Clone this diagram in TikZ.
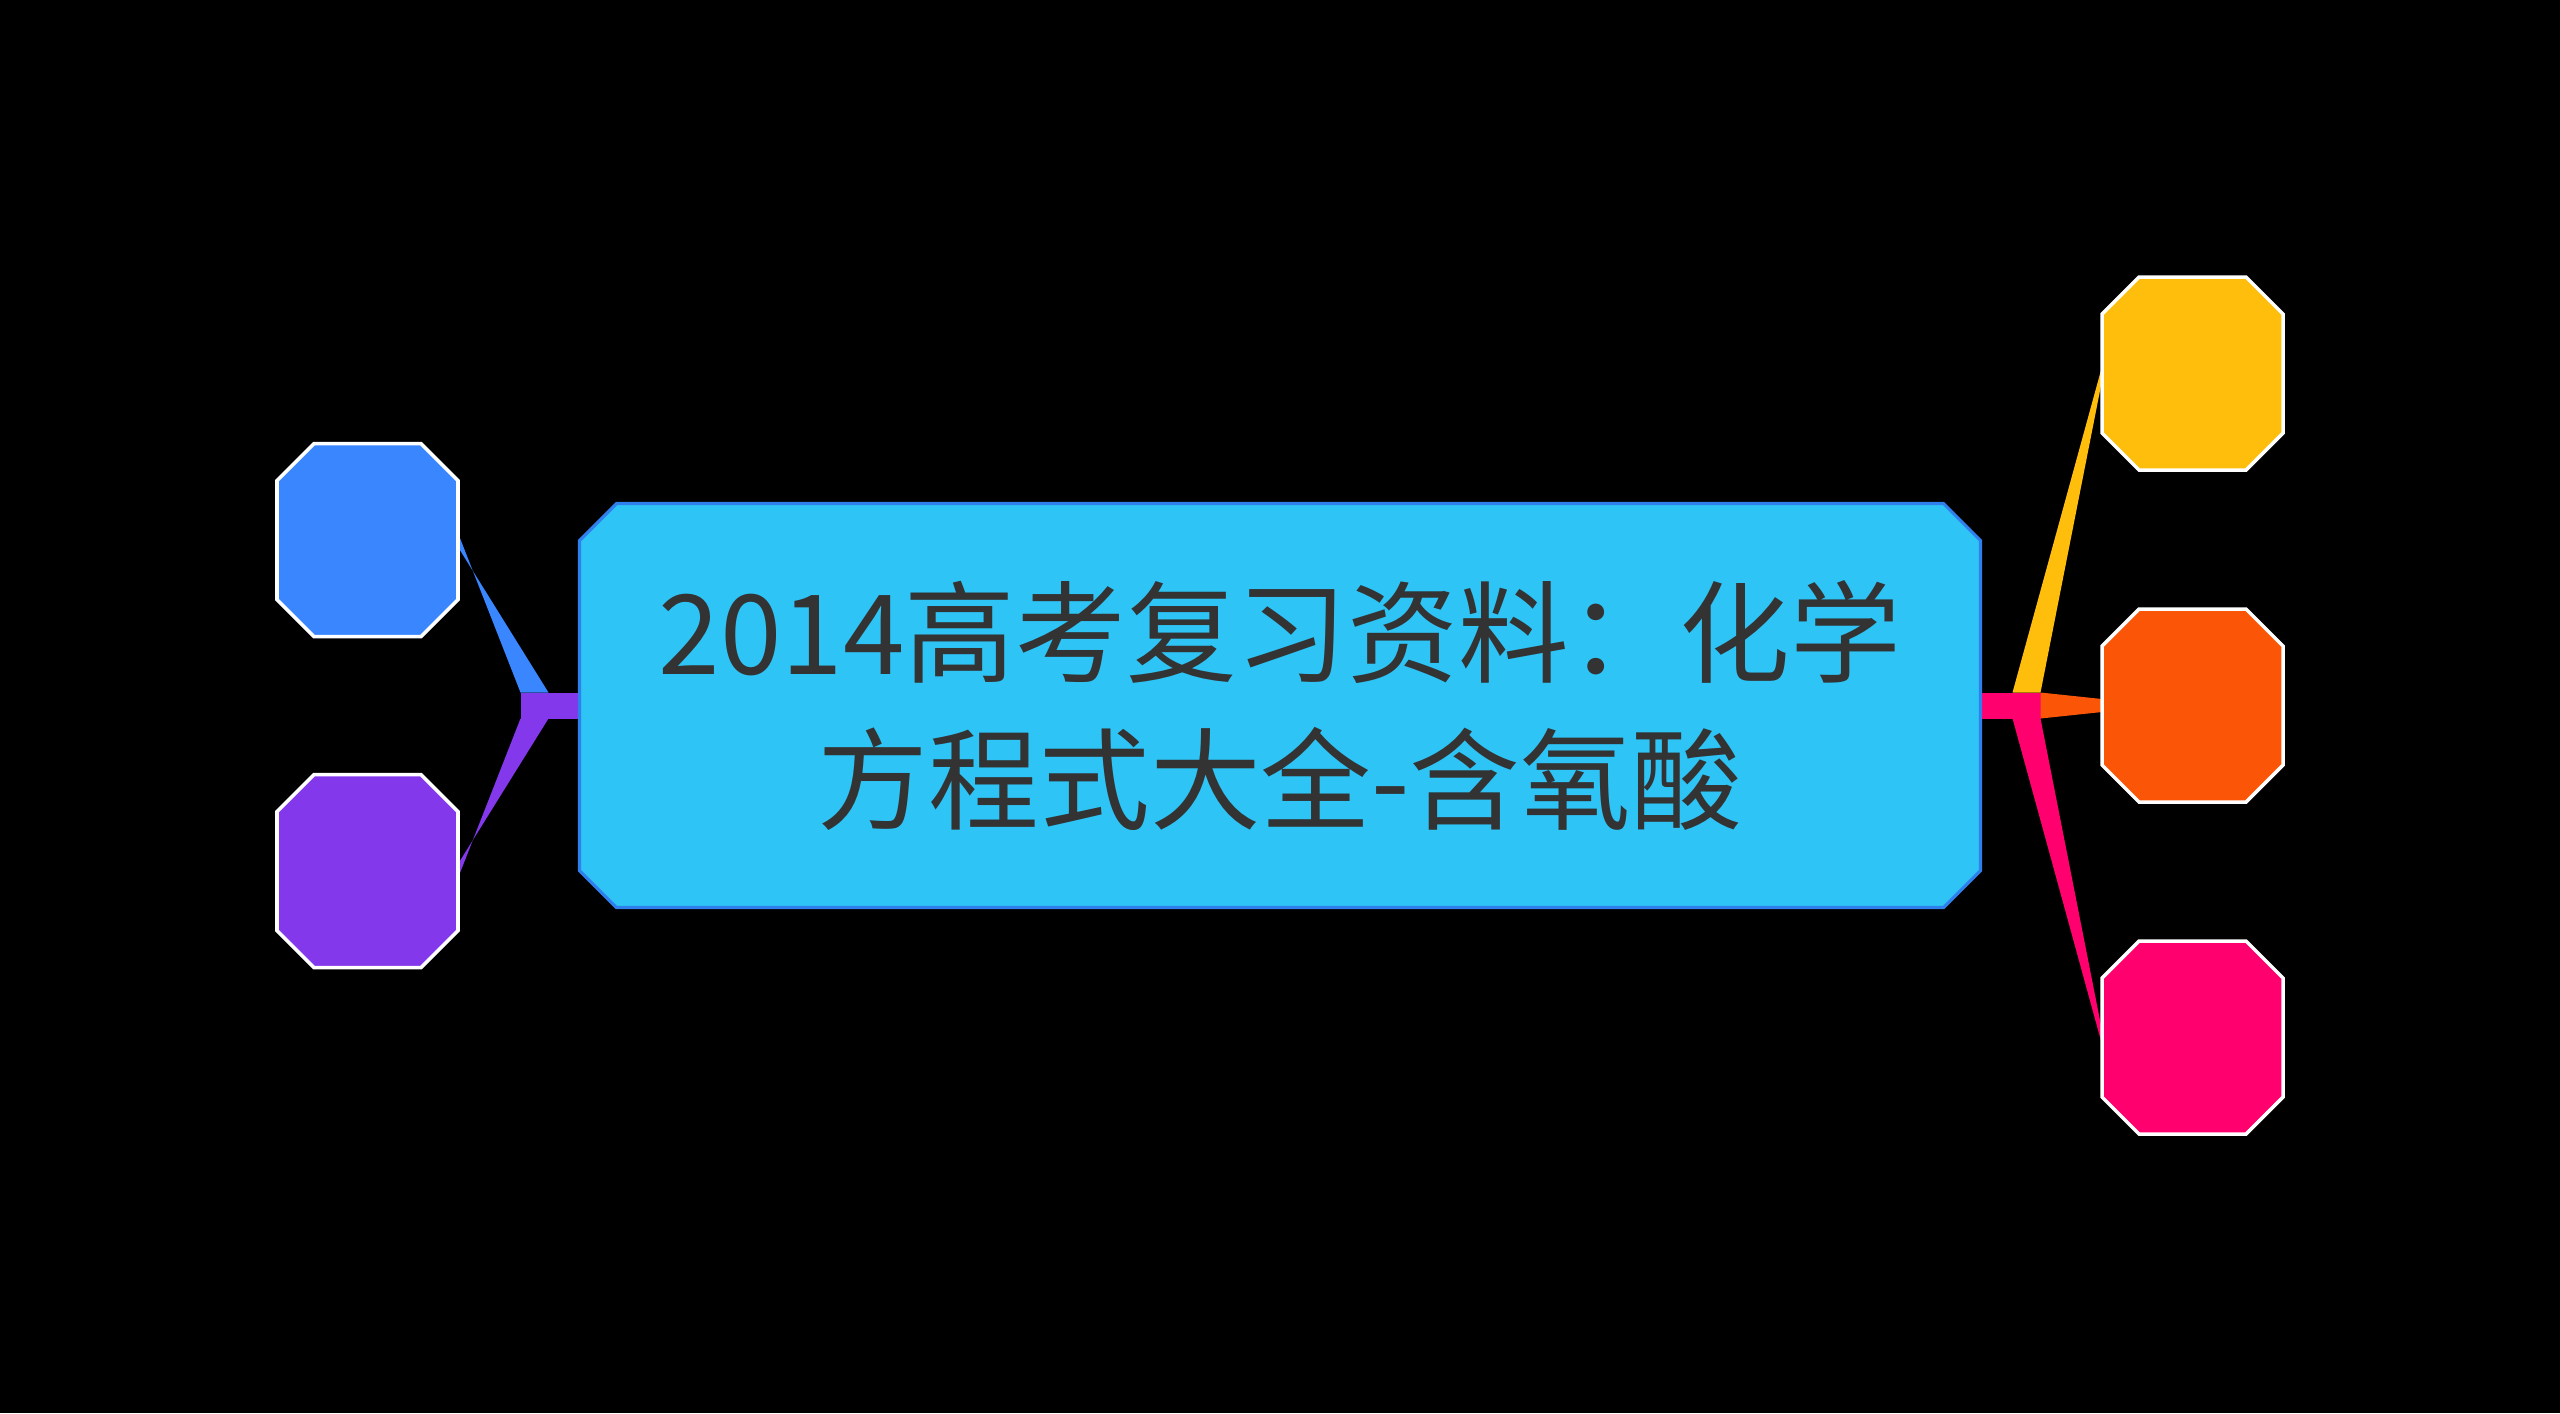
\documentclass[tikz,border=0pt]{standalone}
\usepackage{fontspec}
\newfontfamily\cjk{Noto Sans CJK SC}
\usetikzlibrary{backgrounds,calc}

\definecolor{rootfill}{HTML}{2EC4F6}
\definecolor{rootline}{HTML}{2F80ED}
\definecolor{textgray}{HTML}{333333}
\definecolor{leafblue}{HTML}{3A86FF}
\definecolor{leafpurple}{HTML}{8338EC}
\definecolor{leafyellow}{HTML}{FFBE0B}
\definecolor{leaforange}{HTML}{FB5607}
\definecolor{leafpink}{HTML}{FF006E}

% Achteck um einen Knoten (Ecken abgeschnitten)
\newcommand{\octbox}[2][]{%
  \filldraw[#1] ($(#2.north west)+(0.37,0)$) -- ($(#2.north east)+(-0.37,0)$)
    -- ($(#2.north east)+(0,-0.37)$) -- ($(#2.south east)+(0,0.37)$)
    -- ($(#2.south east)+(-0.37,0)$) -- ($(#2.south west)+(0.37,0)$)
    -- ($(#2.south west)+(0,0.37)$) -- ($(#2.north west)+(0,-0.37)$) -- cycle;}

\begin{document}
\begin{tikzpicture}[
    root node/.style={rectangle,minimum width=14.01cm,minimum height=4.04cm,inner sep=0pt,outer sep=0pt,align=center,text=textgray,font=\cjk\fontsize{31.5}{42}\selectfont},
    leaf node/.style={rectangle,minimum width=1.81cm,minimum height=1.93cm,inner sep=0pt,outer sep=0pt},
    root box/.style={fill=rootfill,draw=rootline,line width=0.9pt},
    leaf box/.style={draw=white,line width=1pt}
]

% Mittelknoten
\node[root node] (root) at (12.80,-7.055) {2014高考复习资料：化学\\方程式大全-含氧酸};

% Knoten links
\node[leaf node] (lb) at (3.675,-5.40) {};
\node[leaf node] (lp) at (3.675,-8.71) {};

% Knoten rechts
\node[leaf node] (ry) at (21.925,-3.735) {};
\node[leaf node] (ro) at (21.925,-7.055) {};
\node[leaf node] (rp) at (21.925,-10.375) {};

% Verzweigungspunkte
\coordinate (lout) at ($(root.west)+(-0.59,0)$);
\coordinate (lin) at ($(root.west)+(-0.31,0)$);
\coordinate (rin) at ($(root.east)+(0.32,0)$);
\coordinate (rout) at ($(root.east)+(0.60,0)$);

\begin{scope}[on background layer]
% Hintergrund
\fill[black] (0,0) rectangle (25.6,-14.13);

% Zweige links
\fill[leafpurple] ($(root.west)+(0,0.13)$) rectangle ($(lout)+(0,-0.13)$);
\fill[leafblue] ($(lout)+(0,0.13)$) -- ($(lin)+(0,0.13)$) -- ($(lb.east)+(0,-0.07)$) -- ($(lb.east)+(0,0.07)$) -- cycle;
\fill[leafpurple] ($(lout)+(0,-0.13)$) -- ($(lin)+(0,-0.13)$) -- ($(lp.east)+(0,0.07)$) -- ($(lp.east)+(0,-0.07)$) -- cycle;

% Zweige rechts
\fill[leafpink] ($(root.east)+(0,0.13)$) rectangle ($(rout)+(0,-0.13)$);
\fill[leafyellow] ($(rin)+(0,0.13)$) -- ($(rout)+(0,0.13)$) -- ($(ry.west)+(0,-0.07)$) -- ($(ry.west)+(0,0.07)$) -- cycle;
\fill[leaforange] ($(rout)+(0,0.13)$) -- ($(ro.west)+(0,0.065)$) -- ($(ro.west)+(0,-0.065)$) -- ($(rout)+(0,-0.13)$) -- cycle;
\fill[leafpink] ($(rin)+(0,-0.13)$) -- ($(rout)+(0,-0.13)$) -- ($(rp.west)+(0,0.07)$) -- ($(rp.west)+(0,-0.07)$) -- cycle;

% Achtecke
\octbox[root box]{root}
\octbox[leaf box,fill=leafblue]{lb}
\octbox[leaf box,fill=leafpurple]{lp}
\octbox[leaf box,fill=leafyellow]{ry}
\octbox[leaf box,fill=leaforange]{ro}
\octbox[leaf box,fill=leafpink]{rp}
\end{scope}

\end{tikzpicture}
\end{document}
